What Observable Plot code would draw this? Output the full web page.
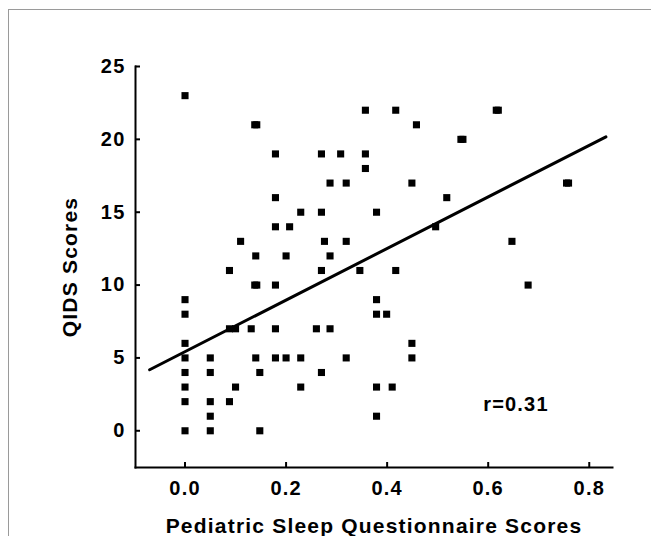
<!DOCTYPE html>
<html>
<head>
<meta charset="utf-8">
<script src="https://cdn.jsdelivr.net/npm/d3@7"></script>
<script src="https://cdn.jsdelivr.net/npm/@observablehq/plot@0.6"></script>
<style>
  html, body { margin: 0; padding: 0; background: #fff; width: 651px; height: 536px; overflow: hidden; }
  #frame { position: absolute; left: 8px; top: 9px; width: 700px; height: 600px; border-left: 1px solid #9a9a9a; border-top: 1px solid #9a9a9a; }
  #chart { position: absolute; left: 0; top: 0; }
</style>
</head>
<body>
<div id="frame"></div>
<div id="chart"></div>
<script>
// Pediatric Sleep Questionnaire score (x) vs QIDS score (y)
const psqScores = [
  0, 0, 0, 0, 0, 0, 0, 0, 0,
  0.05, 0.05, 0.05, 0.05, 0.05,
  0.088, 0.088, 0.088, 0.1, 0.1,
  0.11, 0.131,
  0.138, 0.142, 0.14, 0.138, 0.142, 0.14,
  0.148, 0.148,
  0.179, 0.179, 0.179, 0.179, 0.179, 0.179,
  0.2, 0.2, 0.207,
  0.229, 0.229, 0.229,
  0.26, 0.27, 0.27, 0.27, 0.27, 0.276,
  0.287, 0.287, 0.287, 0.308,
  0.319, 0.319, 0.319, 0.346,
  0.357, 0.357, 0.357,
  0.379, 0.379, 0.379, 0.379, 0.379,
  0.399, 0.41, 0.417, 0.417,
  0.449, 0.449, 0.449, 0.458,
  0.496, 0.518, 0.546, 0.55,
  0.616, 0.62, 0.647, 0.679, 0.755, 0.759
];
const qidsScores = [
  23, 9, 8, 6, 5, 4, 3, 2, 0,
  5, 4, 2, 1, 0,
  11, 2, 7, 7, 3,
  13, 7,
  21, 21, 12, 10, 10, 5,
  4, 0,
  19, 16, 14, 10, 7, 5,
  12, 5, 14,
  15, 5, 3,
  7, 19, 15, 11, 4, 13,
  17, 12, 7, 19,
  17, 13, 5, 11,
  22, 19, 18,
  15, 9, 8, 3, 1,
  8, 3, 22, 11,
  17, 6, 5, 21,
  14, 16, 20, 20,
  22, 22, 13, 10, 17, 17
];

// fitted line as drawn in the figure
const fitIntercept = 5.43;
const fitSlope = 17.7;
const fitRange = [-0.07, 0.833];

const xTicks = [0, 0.2, 0.4, 0.6, 0.8];
const yTicks = [0, 5, 10, 15, 20, 25];
const xTitle = "Pediatric Sleep Questionnaire Scores";
const yTitle = "QIDS Scores";
const rLabel = "r=0.31";
const rLabelX = 0.59;
const rLabelY = 1.8;

const points = psqScores.map((x, i) => ({x, y: qidsScores[i]}));
const fitLine = fitRange.map(x => ({x, y: fitIntercept + fitSlope * x}));

const chart = Plot.plot({
  width: 651,
  height: 536,
  marginLeft: 135,
  marginRight: 39,
  marginTop: 66,
  marginBottom: 69,
  x: {domain: [-0.098, 0.846]},
  y: {domain: [-2.52, 25]},
  style: {
    fontFamily: "'Liberation Sans', Arial, sans-serif",
    fontWeight: "bold",
    fontSize: "20px",
    letterSpacing: "1.2px",
    color: "#000",
    background: "transparent",
    overflow: "visible"
  },
  marks: [
    Plot.frame({anchor: "left", stroke: "#000", strokeWidth: 2}),
    Plot.frame({anchor: "bottom", stroke: "#000", strokeWidth: 2}),
    Plot.axisX(xTicks, {tickSize: -5, tickPadding: 18, strokeWidth: 2, tickFormat: d => d.toFixed(1), label: null, fontSize: 20}),
    Plot.axisY(yTicks, {tickSize: -5, tickPadding: 15, strokeWidth: 2, label: null, fontSize: 20}),
    Plot.line(fitLine, {x: "x", y: "y", stroke: "#000", strokeWidth: 3}),
    Plot.dot(points, {x: "x", y: "y", symbol: "square", r: 4, fill: "#000", stroke: null}),
    Plot.text([rLabel], {x: rLabelX, y: rLabelY, text: d => d, textAnchor: "start", lineAnchor: "middle", fontSize: 20, fill: "#000"}),
    Plot.text([xTitle], {frameAnchor: "bottom", dy: 59, text: d => d, lineAnchor: "middle", fontSize: 21, fill: "#000"}),
    Plot.text([yTitle], {frameAnchor: "left", dx: -65, rotate: -90, text: d => d, lineAnchor: "middle", textAnchor: "middle", fontSize: 21, fill: "#000"})
  ]
});
document.getElementById("chart").appendChild(chart);
</script>
</body>
</html>
